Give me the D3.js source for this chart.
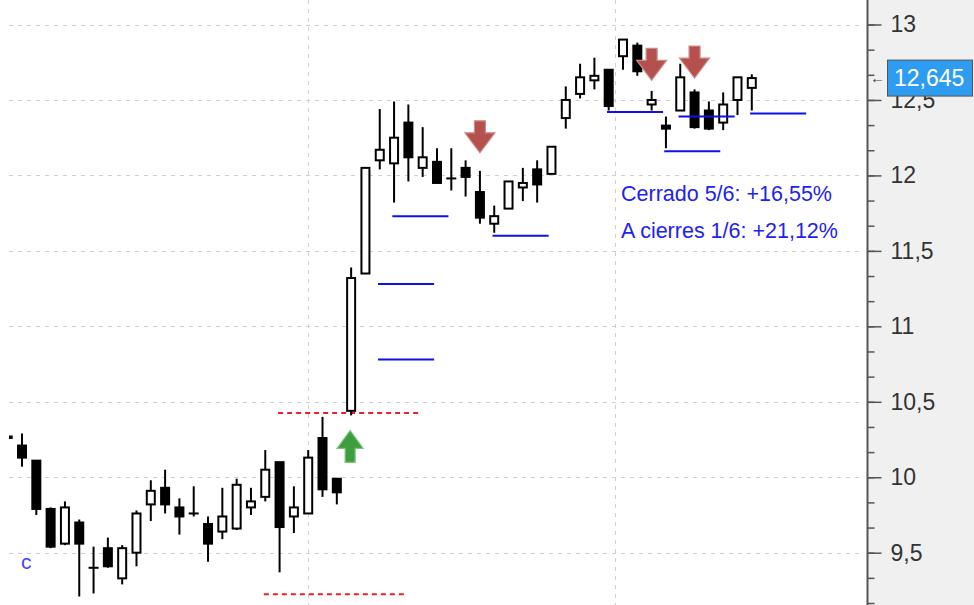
<!DOCTYPE html>
<html>
<head>
<meta charset="utf-8">
<script src="https://cdn.jsdelivr.net/npm/d3@7"></script>
<style>
    body { margin: 0; background: #fff; }
    #chart-area text { font-family: "Liberation Sans", Arial, sans-serif; }
</style>
</head>
<body>
<div id="chart-area"></div>
<script>

// OHLC per session, oldest first
let opens  = [10.27, 10.21, 10.11, 9.79, 9.56, 9.70, 9.40, 9.53, 9.33, 9.50, 9.82, 9.93, 9.80, 9.76, 9.69, 9.64, 9.66, 9.80, 9.87, 10.10,
              9.74, 9.76, 10.26, 9.99, 10.44, 11.35, 12.10, 12.08, 12.35, 12.05, 12.09, 11.98, 12.05, 11.89, 11.68, 11.78, 11.92, 12.04, 12.01, 12.38,
              12.54, 12.63, 12.70, 12.79, 12.86, 12.47, 12.33, 12.43, 12.55, 12.43, 12.35, 12.50, 12.58];
let highs  = [10.27, 10.29, 10.11, 9.80, 9.84, 9.72, 9.54, 9.60, 9.55, 9.78, 9.98, 10.05, 9.86, 9.94, 9.74, 9.93, 9.99, 9.93, 10.18, 10.10,
              9.94, 10.18, 10.40, 9.99, 11.39, 12.05, 12.44, 12.49, 12.47, 12.32, 12.18, 12.18, 12.10, 12.03, 11.80, 11.96, 12.05, 12.10, 12.19, 12.59,
              12.74, 12.78, 12.70, 12.90, 12.88, 12.56, 12.39, 12.74, 12.57, 12.49, 12.55, 12.65, 12.67];
let lows   = [10.26, 10.07, 9.75, 9.53, 9.55, 9.21, 9.23, 9.40, 9.29, 9.41, 9.71, 9.76, 9.62, 9.74, 9.44, 9.59, 9.65, 9.75, 9.84, 9.37,
              9.63, 9.76, 9.87, 9.82, 10.41, 11.35, 12.04, 11.82, 11.96, 11.99, 11.95, 11.90, 11.86, 11.68, 11.62, 11.78, 11.83, 11.82, 12.01, 12.31,
              12.51, 12.57, 12.43, 12.70, 12.66, 12.43, 12.18, 12.43, 12.31, 12.30, 12.30, 12.40, 12.43];
let closes = [10.26, 10.13, 9.79, 9.54, 9.80, 9.56, 9.40, 9.41, 9.53, 9.76, 9.91, 9.82, 9.74, 9.76, 9.56, 9.74, 9.95, 9.84, 10.05, 9.67,
              9.80, 10.13, 9.92, 9.90, 11.32, 12.05, 12.17, 12.25, 12.12, 12.12, 11.95, 11.98, 11.99, 11.72, 11.73, 11.96, 11.95, 11.94, 12.19, 12.50,
              12.65, 12.66, 12.46, 12.90, 12.69, 12.50, 12.31, 12.65, 12.32, 12.31, 12.47, 12.65, 12.645];

// target / exit levels (blue) and where they start
let exitLevels = [11.73, 11.28, 10.78, 11.60, 12.42, 12.16, 12.39, 12.41];
let exitStart  = [27, 26, 26, 34, 42, 46, 47, 52];

// entry and stop (red dashed)
let stopLevels = [10.425, 9.225];
let stopStart  = [19, 18];

// signals: bar index + arrow tip price
let buyIdx   = [24];
let buyTip   = [10.31];
let sellIdx  = [33, 45, 48];
let sellTip  = [12.15, 12.63, 12.645];

// session separators
let separators = [21, 42.45];

let yTicks = [9.5, 10, 10.5, 11, 11.5, 12, 12.5, 13];
let lastPrice = 12.645;
let statLines = ["Cerrado 5/6: +16,55%", "A cierres 1/6: +21,12%"];


class CandleChart {

    constructor(parentElement){
        this.parentElement = parentElement;
        this.initVis();
    }

    initVis(){
        let vis = this;

        vis.width = 974;
        vis.height = 605;
        vis.axisX = 867.5;

        vis.svg = d3.select("#" + vis.parentElement).append("svg")
            .attr("width", vis.width)
            .attr("height", vis.height);

        vis.svg.append("defs").append("clipPath")
            .attr("id", "plot-clip")
            .append("rect")
            .attr("x", 9).attr("y", 0)
            .attr("width", vis.axisX - 9).attr("height", vis.height);

        vis.x = d3.scaleLinear()
            .domain([0, 52])
            .range([7.7, 751.8]);

        vis.y = d3.scaleLinear()
            .domain([9.5, 13])
            .range([552.7, 24.5]);

        // grey panel behind price axis
        vis.svg.append("rect")
            .attr("x", vis.axisX).attr("y", 0)
            .attr("width", vis.width - vis.axisX).attr("height", vis.height)
            .attr("fill", "#f0f0f0");

        vis.plot = vis.svg.append("g").attr("clip-path", "url(#plot-clip)");

        this.updateVis();
    }

    updateVis(){
        let vis = this;
        let bars = d3.range(opens.length);

        // grid
        vis.plot.selectAll(".hgrid")
            .data(yTicks)
            .join("line")
            .attr("class", "hgrid")
            .attr("x1", 9).attr("x2", 862)
            .attr("y1", d => Math.round(vis.y(d)) + 0.5)
            .attr("y2", d => Math.round(vis.y(d)) + 0.5)
            .attr("stroke", "#d0d0d0")
            .attr("stroke-dasharray", "4,5");

        vis.plot.selectAll(".vgrid")
            .data(separators)
            .join("line")
            .attr("class", "vgrid")
            .attr("x1", d => Math.round(vis.x(d)) + 0.5)
            .attr("x2", d => Math.round(vis.x(d)) + 0.5)
            .attr("y1", 0).attr("y2", vis.height)
            .attr("stroke", "#d0d0d0")
            .attr("stroke-dasharray", "4,5");

        // red dashed entry/stop
        vis.plot.selectAll(".stop")
            .data(stopLevels)
            .join("line")
            .attr("class", "stop")
            .attr("x1", (d, i) => vis.x(stopStart[i] - 0.1))
            .attr("x2", (d, i) => vis.x(stopStart[i] + 9.7))
            .attr("y1", d => vis.y(d))
            .attr("y2", d => vis.y(d))
            .attr("stroke", "#e8202a")
            .attr("stroke-width", 2)
            .attr("stroke-dasharray", "5,4");

        // candles
        let candle = vis.plot.selectAll(".candle")
            .data(bars)
            .join("g")
            .attr("class", "candle");

        candle.append("line")
            .attr("x1", i => vis.x(i))
            .attr("x2", i => vis.x(i))
            .attr("y1", i => vis.y(highs[i]))
            .attr("y2", i => vis.y(lows[i]))
            .attr("stroke", "#000")
            .attr("stroke-width", 2);

        candle.append("rect")
            .attr("x", i => vis.x(i) - 4)
            .attr("width", 8)
            .attr("y", i => vis.y(Math.max(opens[i], closes[i])))
            .attr("height", i => Math.max(0.01, Math.abs(vis.y(opens[i]) - vis.y(closes[i]))))
            .attr("fill", i => closes[i] < opens[i] ? "#000" : "#fff")
            .attr("stroke", "#000")
            .attr("stroke-width", 2);

        // blue exits
        vis.plot.selectAll(".exit")
            .data(exitLevels)
            .join("line")
            .attr("class", "exit")
            .attr("x1", (d, i) => vis.x(exitStart[i] - 0.12))
            .attr("x2", (d, i) => vis.x(exitStart[i] + 3.8))
            .attr("y1", d => vis.y(d))
            .attr("y2", d => vis.y(d))
            .attr("stroke", "#1010e8")
            .attr("stroke-width", 2);

        // arrows
        let downPath = "M-5.5,-32L5.5,-32L5.5,-20L15,-20L0,0L-15,-20L-5.5,-20Z";
        let upPath = "M-5,32L5,32L5,18L13,18L0,0L-13,18L-5,18Z";

        vis.plot.selectAll(".sell")
            .data(sellIdx)
            .join("path")
            .attr("class", "sell")
            .attr("d", downPath)
            .attr("transform", (d, i) => `translate(${vis.x(d)}, ${vis.y(sellTip[i])})`)
            .attr("fill", "#b4504d")
            .attr("stroke", "#cf8a87")
            .attr("stroke-width", 1.2);

        vis.plot.selectAll(".buy")
            .data(buyIdx)
            .join("path")
            .attr("class", "buy")
            .attr("d", upPath)
            .attr("transform", (d, i) => `translate(${vis.x(d) - 1}, ${vis.y(buyTip[i])})`)
            .attr("fill", "#3e9d3e")
            .attr("stroke", "#7cc47c")
            .attr("stroke-width", 1.2);

        // stats
        vis.svg.selectAll(".stat")
            .data(statLines)
            .join("text")
            .attr("class", "stat")
            .attr("x", 621)
            .attr("y", (d, i) => 201 + i * 37)
            .attr("fill", "#2222ee")
            .attr("font-size", "21.5px")
            .text(d => d);

        vis.svg.append("text")
            .attr("x", 21)
            .attr("y", 569)
            .attr("fill", "#4545ff")
            .attr("font-size", "21px")
            .text("c");

        // price axis
        let locale = d3.formatLocale({decimal: ",", thousands: ".", grouping: [3], currency: ["", "€"]});
        let fmt = locale.format("~f");

        let minorTicks = d3.range(0, 25).map(k => 9 + k / 6)
            .filter(v => vis.y(v) > 0 && vis.y(v) < vis.height);

        vis.minorAxis = d3.axisRight(vis.y).tickValues(minorTicks).tickSize(7).tickFormat("");
        vis.majorAxis = d3.axisRight(vis.y).tickValues(yTicks).tickSize(14).tickPadding(9).tickFormat(fmt);

        let gMinor = vis.svg.append("g")
            .attr("transform", `translate(${vis.axisX}, 0)`)
            .call(vis.minorAxis);
        let gMajor = vis.svg.append("g")
            .attr("transform", `translate(${vis.axisX}, 0)`)
            .call(vis.majorAxis);

        [gMinor, gMajor].forEach(g => {
            g.select(".domain").remove();
            g.selectAll(".tick line").attr("stroke", "#555").attr("stroke-width", 1.5);
        });
        gMajor.selectAll(".tick text")
            .attr("fill", "#333")
            .attr("font-size", "23px")
            .attr("font-family", "'Liberation Sans', Arial, sans-serif");

        vis.svg.append("line")
            .attr("x1", vis.axisX).attr("x2", vis.axisX)
            .attr("y1", 0).attr("y2", vis.height)
            .attr("stroke", "#555")
            .attr("stroke-width", 2);

        // last price tag
        let yLast = vis.y(lastPrice);
        vis.svg.append("rect")
            .attr("x", 887.5).attr("y", yLast - 18)
            .attr("width", 85).attr("height", 36)
            .attr("fill", "#2e9cf0")
            .attr("stroke", "#555");

        vis.svg.append("text")
            .attr("x", 894)
            .attr("y", yLast)
            .attr("dy", "0.36em")
            .attr("fill", "#fff")
            .attr("font-size", "23px")
            .text(fmt(lastPrice));

        vis.svg.append("text")
            .attr("x", 870)
            .attr("y", yLast)
            .attr("dy", "0.32em")
            .attr("fill", "#444")
            .attr("font-size", "15px")
            .text("←");
    }
}

new CandleChart("chart-area");

</script>
</body>
</html>
